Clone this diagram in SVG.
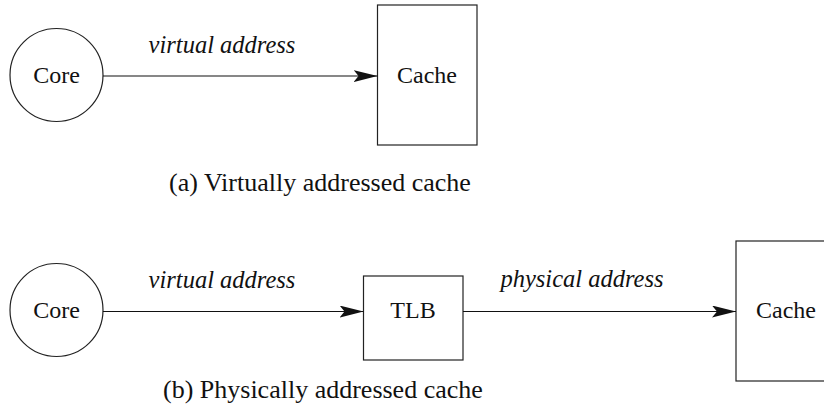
<svg xmlns="http://www.w3.org/2000/svg" width="824" height="410" viewBox="0 0 824 410">
<style>
.shape{fill:#fff;stroke:#222;stroke-width:1.2}
text{font-family:'Liberation Serif','Times New Roman','DejaVu Serif',Times,serif;fill:#111}
.lbl{font-size:24px;text-anchor:middle}
.edge{font-size:24.5px;font-style:italic;text-anchor:middle}
.cap{font-size:26px}
.conn{stroke:#111;stroke-width:1.2;fill:none;marker-end:url(#arr)}
</style>
<defs>
<marker id="arr" viewBox="0 0 24 12" refX="24" refY="6" markerWidth="24" markerHeight="12" markerUnits="userSpaceOnUse" orient="auto">
<path d="M0,0 L24,6 L0,12 L5,6 Z" fill="#111"/>
</marker>
</defs>
<g id="core-a"><circle class="shape" cx="56.5" cy="75" r="46.5"/><text class="lbl" x="56.5" y="83" font-family="Liberation Serif, serif">Core</text></g>
<g id="cache-a"><rect class="shape" x="377.5" y="5" width="99.5" height="140"/><text class="lbl" x="427" y="83" font-family="Liberation Serif, serif">Cache</text></g>
<g id="core-b"><circle class="shape" cx="56.5" cy="310" r="46.5"/><text class="lbl" x="56.5" y="318" font-family="Liberation Serif, serif">Core</text></g>
<g id="tlb-b"><rect class="shape" x="363.5" y="276" width="99.5" height="84"/><text class="lbl" x="413" y="318" font-family="Liberation Serif, serif">TLB</text></g>
<g id="cache-b"><rect class="shape" x="736" y="241" width="100" height="140"/><text class="lbl" x="786" y="318" font-family="Liberation Serif, serif">Cache</text></g>
<g id="connectors">
<line class="conn" x1="103" y1="76" x2="377.5" y2="76"/>
<text class="edge" x="222" y="53" font-family="Liberation Serif, serif">virtual address</text>
<line class="conn" x1="103" y1="311.5" x2="363.5" y2="311.5"/>
<text class="edge" x="222" y="288" font-family="Liberation Serif, serif">virtual address</text>
<line class="conn" x1="463" y1="311.5" x2="736" y2="311.5"/>
<text class="edge" x="582" y="287" font-family="Liberation Serif, serif">physical address</text>
</g>
<text class="cap" x="169" y="191" font-family="Liberation Serif, serif">(a) Virtually addressed cache</text>
<text class="cap" x="163" y="398" font-family="Liberation Serif, serif">(b) Physically addressed cache</text>
</svg>
